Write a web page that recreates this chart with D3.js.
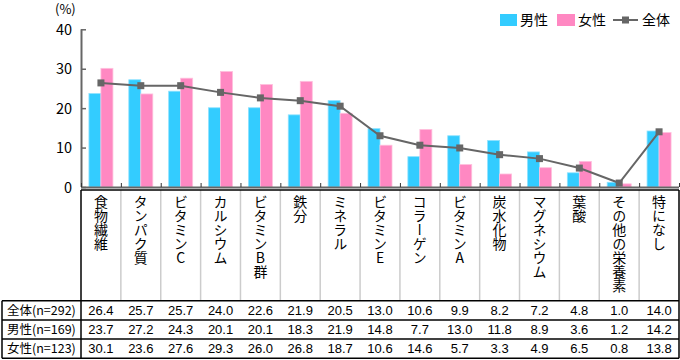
<!DOCTYPE html>
<html><head><meta charset="utf-8">
<script src="https://cdn.jsdelivr.net/npm/d3@7"></script>
<style>
body{margin:0;background:#fff;}
svg{display:block;}
text{font-family:"Noto Sans CJK JP","Liberation Sans",sans-serif;}
</style></head>
<body>
<svg id="c" width="680" height="360"></svg>
<script>
const categories = ["食物繊維","タンパク質","ビタミンC","カルシウム","ビタミンB群","鉄分","ミネラル","ビタミンE","コラーゲン","ビタミンA","炭水化物","マグネシウム","葉酸","その他の栄養素","特になし"];
const totalValues = [26.4,25.7,25.7,24.0,22.6,21.9,20.5,13.0,10.6,9.9,8.2,7.2,4.8,1.0,14.0];
const maleValues  = [23.7,27.2,24.3,20.1,20.1,18.3,21.9,14.8,7.7,13.0,11.8,8.9,3.6,1.2,14.2];
const femaleValues= [30.1,23.6,27.6,29.3,26.0,26.8,18.7,10.6,14.6,5.7,3.3,4.9,6.5,0.8,13.8];
const rowLabels = ["全体(n=292)","男性(n=169)","女性(n=123)"];
const yTicks = [0,10,20,30,40];
const seriesNames = ["男性","女性","全体"];

const svg = d3.select("#c");
const x0 = 81, x1 = 679;
const x = d3.scaleBand().domain(categories).range([x0, x1]).padding(0);
const y = d3.scaleLinear().domain([0,40]).range([187, 29.3]);
const maleC = "#33CCFF", femaleC = "#FF88C2", lineC = "#666666";

// bars
const bw = 12;
svg.append("g").selectAll("rect").data(categories).join("rect")
  .attr("x", d => x(d) + x.bandwidth()/2 - bw)
  .attr("y", (d,i) => y(maleValues[i]))
  .attr("width", bw)
  .attr("height", (d,i) => y(0) - y(maleValues[i]))
  .attr("fill", maleC).attr("stroke","#8fe2ff").attr("stroke-width",0.8);
svg.append("g").selectAll("rect").data(categories).join("rect")
  .attr("x", d => x(d) + x.bandwidth()/2)
  .attr("y", (d,i) => y(femaleValues[i]))
  .attr("width", bw)
  .attr("height", (d,i) => y(0) - y(femaleValues[i]))
  .attr("fill", femaleC).attr("stroke","#ffc0dd").attr("stroke-width",0.8);

// y axis
const ya = svg.append("g").attr("transform",`translate(${x0},0)`)
  .call(d3.axisRight(y).tickValues(yTicks).tickSize(5).tickFormat(d3.format("d")));
ya.select(".domain").attr("stroke", lineC).attr("stroke-width",2).attr("d",`M0.5,${y(40)}V${y(0)}`);
ya.selectAll(".tick line").attr("stroke", lineC).attr("stroke-width",1.5);
ya.selectAll(".tick text").attr("x",-9).attr("text-anchor","end").attr("dy","0.35em")
  .style("font-size","14.5px").style("font-family","'Noto Sans CJK JP',sans-serif").attr("fill","#000");
svg.append("text").attr("x",55).attr("y",14).text("(%)").style("font-size","13px").attr("fill","#000");

// x axis
const xa = svg.append("g").attr("transform",`translate(0,${y(0)})`)
  .call(d3.axisTop(d3.scalePoint().domain(d3.range(categories.length+1)).range([x0,x1])).tickSize(4).tickFormat(""));
xa.select(".domain").attr("stroke", lineC).attr("stroke-width",2).attr("d",`M${x0},0.5H${x1}`);
xa.selectAll(".tick line").attr("stroke","#333").attr("stroke-width",1);

// line
const line = d3.line().x((d,i)=>x(categories[i])+x.bandwidth()/2).y(d=>y(d));
svg.append("path").datum(totalValues).attr("d",line).attr("fill","none").attr("stroke",lineC).attr("stroke-width",2);
svg.append("g").selectAll("rect").data(totalValues).join("rect")
  .attr("x",(d,i)=>x(categories[i])+x.bandwidth()/2-3.5).attr("y",d=>y(d)-3.5)
  .attr("width",7).attr("height",7).attr("fill",lineC);

// legend
const lg = svg.append("g");
lg.append("rect").attr("x",500).attr("y",14).attr("width",17).attr("height",12).attr("fill",maleC);
lg.append("text").attr("x",520).attr("y",25).text(seriesNames[0]).style("font-size","14px");
lg.append("rect").attr("x",557).attr("y",14).attr("width",18).attr("height",12).attr("fill",femaleC);
lg.append("text").attr("x",578).attr("y",25).text(seriesNames[1]).style("font-size","14px");
lg.append("line").attr("x1",613).attr("x2",638).attr("y1",20).attr("y2",20).attr("stroke",lineC).attr("stroke-width",2);
lg.append("rect").attr("x",622).attr("y",16.5).attr("width",7).attr("height",7).attr("fill",lineC);
lg.append("text").attr("x",642).attr("y",25).text(seriesNames[2]).style("font-size","14px");

// table
const tTop = 190, hBot = 300.7, rowH = 19.2, tLeft = 2;
const tg = svg.append("g");
tg.selectAll("line.sep").data(d3.range(1,categories.length)).join("line")
  .attr("x1",i=>x0+i*x.bandwidth()).attr("x2",i=>x0+i*x.bandwidth())
  .attr("y1",tTop).attr("y2",hBot).attr("stroke","#cccccc").attr("stroke-width",1.5);
tg.selectAll("text.cat").data(categories).join("text")
  .attr("x",d=>x(d)+x.bandwidth()/2).attr("y",195)
  .style("writing-mode","vertical-rl").style("text-orientation","upright")
  .style("font-size","14px").attr("fill","#000")
  .text(d=>d);
const bl = (xa_,ya_,xb,yb,w) => tg.append("line").attr("x1",xa_).attr("y1",ya_).attr("x2",xb).attr("y2",yb).attr("stroke","#000").attr("stroke-width",w||1.3);
bl(x0,tTop,x1,tTop,1.5);
bl(x0,tTop,x0,hBot+rowH*3,1.5);
bl(x1,tTop,x1,hBot+rowH*3,1.5);
for(let r=0;r<=3;r++) bl(tLeft,hBot+r*rowH,x1,hBot+r*rowH,1.5);
bl(tLeft,hBot,tLeft,hBot+rowH*3,1.5);
const rows = [totalValues, maleValues, femaleValues];
rows.forEach((vals,r)=>{
  const cy = hBot + r*rowH + rowH/2;
  tg.append("text").attr("x",7).attr("y",cy).attr("dy","0.36em").text(rowLabels[r])
    .style("font-size","12.5px").attr("fill","#000");
  tg.selectAll(null).data(vals).join("text")
    .attr("x",(d,i)=>x(categories[i])+x.bandwidth()/2).attr("y",cy).attr("dy","0.36em")
    .attr("text-anchor","middle").style("font-family","'Liberation Sans',Arial,sans-serif")
    .style("font-size","13px").attr("fill","#000").text(d=>d.toFixed(1));
});
</script>
</body></html>
